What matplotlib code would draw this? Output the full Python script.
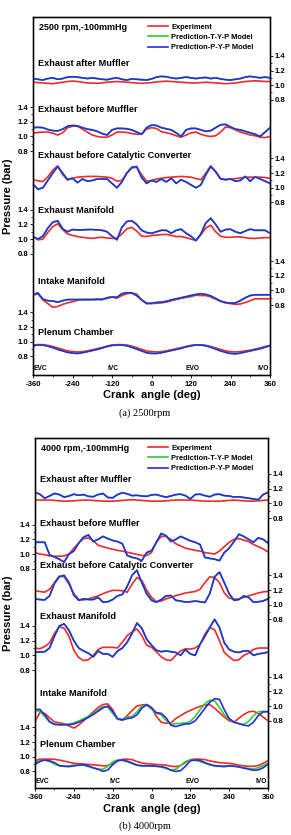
import matplotlib
matplotlib.use('Agg')
import matplotlib.pyplot as plt
from matplotlib.ticker import FixedLocator, MultipleLocator, FormatStrFormatter

plt.rcParams['font.family'] = ['Liberation Sans', 'DejaVu Sans']
plt.rcParams['font.weight'] = 'bold'
plt.rcParams['axes.unicode_minus'] = False

# crank angle samples (deg)
angle = list(range(-360, 361, 15))

channels = ['Exhaust after Muffler', 'Exhaust before Muffler',
            'Exhaust before Catalytic Converter', 'Exhaust Manifold',
            'Intake Manifold', 'Plenum Chamber']
model_labels = ['Experiment', 'Prediction-T-Y-P Model', 'Prediction-P-Y-P Model']
events = ['EVC', 'IVC', 'EVO', 'IVO']
xticks = [-360, -240, -120, 0, 120, 240, 360]
yticks = [0.8, 1.0, 1.2, 1.4]

# ---------------- (a) 2500 rpm ----------------
a_exp_am = [1.04, 1.035, 1.03, 1.025, 1.02, 1.03, 1.04, 1.05, 1.055, 1.05,
            1.04, 1.03, 1.03, 1.025, 1.03, 1.04, 1.045, 1.05, 1.045, 1.04,
            1.035, 1.03, 1.025, 1.03, 1.035, 1.045, 1.05, 1.055, 1.05, 1.045,
            1.04, 1.035, 1.03, 1.03, 1.035, 1.04, 1.035, 1.03, 1.025, 1.02,
            1.025, 1.03, 1.04, 1.05, 1.055, 1.06, 1.055, 1.05, 1.05]
a_pyp_am = [1.09, 1.08, 1.07, 1.09, 1.10, 1.08, 1.09, 1.11, 1.115, 1.11,
            1.10, 1.09, 1.10, 1.09, 1.08, 1.075, 1.09, 1.10, 1.08, 1.07,
            1.085, 1.08, 1.075, 1.07, 1.085, 1.11, 1.12, 1.115, 1.10, 1.09,
            1.10, 1.11, 1.10, 1.09, 1.10, 1.105, 1.09, 1.10, 1.085, 1.075,
            1.07, 1.08, 1.09, 1.11, 1.12, 1.11, 1.10, 1.11, 1.10]
a_exp_bm = [1.045, 1.055, 1.06, 1.06, 1.045, 1.02, 1.05, 1.12, 1.14, 1.14,
            1.10, 1.06, 1.02, 1.0, 0.99, 0.99, 1.02, 1.06, 1.06, 1.055,
            1.04, 1.03, 1.03, 1.10, 1.12, 1.11, 1.065, 1.05, 1.035, 1.01,
            0.99, 1.02, 1.05, 1.06, 1.03, 1.01, 1.0, 1.01, 1.06, 1.13,
            1.12, 1.09, 1.06, 1.04, 1.02, 1.01, 0.99, 0.985, 1.0]
a_pyp_bm = [1.12, 1.125, 1.12, 1.095, 1.08, 1.075, 1.10, 1.14, 1.15, 1.145,
            1.12, 1.10, 1.09, 1.07, 1.04, 1.02, 1.09, 1.11, 1.11, 1.105,
            1.09, 1.06, 1.03, 1.12, 1.155, 1.15, 1.12, 1.105, 1.09, 1.05,
            1.0, 1.09, 1.11, 1.11, 1.09, 1.07, 1.08, 1.12, 1.16, 1.165,
            1.13, 1.10, 1.09, 1.07, 1.05, 1.03, 1.0, 1.06, 1.12]
a_exp_bc = [1.11, 1.095, 1.085, 1.15, 1.24, 1.30, 1.18, 1.11, 1.13, 1.145,
            1.15, 1.155, 1.155, 1.155, 1.15, 1.145, 1.13, 1.09, 1.10, 1.20,
            1.27, 1.28, 1.18, 1.09, 1.10, 1.12, 1.13, 1.14, 1.145, 1.15,
            1.155, 1.15, 1.145, 1.125, 1.11, 1.20, 1.30, 1.22, 1.12, 1.115,
            1.12, 1.125, 1.135, 1.145, 1.145, 1.145, 1.145, 1.14, 1.13]
a_pyp_bc = [1.05, 0.98, 1.0, 1.10, 1.20, 1.29, 1.20, 1.11, 1.13, 1.07,
            1.12, 1.09, 1.10, 1.12, 1.12, 1.12, 1.06, 1.0, 1.08, 1.20,
            1.28, 1.29, 1.14, 1.06, 1.10, 1.08, 1.12, 1.08, 1.13, 1.06,
            1.11, 1.08, 1.04, 1.0, 1.04, 1.18, 1.29, 1.22, 1.12, 1.11,
            1.12, 1.09, 1.10, 1.155, 1.09, 1.15, 1.12, 1.09, 1.06]
a_exp_em = [1.035, 0.99, 1.0, 1.09, 1.17, 1.21, 1.13, 1.07, 1.05, 1.035,
            1.025, 1.015, 1.01, 1.02, 1.025, 1.015, 1.01, 1.01, 1.07, 1.14,
            1.16, 1.11, 1.04, 1.035, 1.05, 1.055, 1.06, 1.065, 1.05, 1.035,
            1.035, 1.02, 1.0, 0.98, 1.06, 1.15, 1.19, 1.10, 1.04, 1.025,
            1.025, 1.03, 1.03, 1.02, 1.01, 1.01, 1.015, 1.02, 1.02]
a_pyp_em = [1.035, 1.0, 1.04, 1.15, 1.23, 1.25, 1.14, 1.10, 1.13, 1.125,
            1.125, 1.13, 1.13, 1.125, 1.12, 1.10, 1.04, 0.99, 1.16, 1.24,
            1.25, 1.20, 1.12, 1.09, 1.08, 1.10, 1.12, 1.12, 1.08, 1.12,
            1.135, 1.08, 1.04, 0.98, 1.07, 1.22, 1.285, 1.20, 1.10, 1.13,
            1.135, 1.10, 1.08, 1.11, 1.135, 1.12, 1.12, 1.12, 1.08]
a_exp_im = [0.93, 0.955, 0.87, 0.82, 0.77, 0.78, 0.81, 0.83, 0.845, 0.865,
            0.875, 0.875, 0.875, 0.875, 0.88, 0.89, 0.91, 0.895, 0.93, 0.955,
            0.965, 0.95, 0.87, 0.83, 0.82, 0.825, 0.83, 0.84, 0.86, 0.875,
            0.89, 0.905, 0.915, 0.935, 0.93, 0.93, 0.91, 0.88, 0.85, 0.83,
            0.82, 0.81, 0.815, 0.835, 0.86, 0.885, 0.885, 0.885, 0.885]
a_pyp_im = [0.945, 0.965, 0.88, 0.86, 0.855, 0.84, 0.86, 0.875, 0.875, 0.875,
            0.875, 0.875, 0.875, 0.88, 0.875, 0.9, 0.91, 0.905, 0.955, 0.968,
            0.965, 0.93, 0.87, 0.82, 0.825, 0.835, 0.84, 0.85, 0.87, 0.885,
            0.9, 0.915, 0.93, 0.945, 0.955, 0.945, 0.925, 0.89, 0.855, 0.835,
            0.825, 0.83, 0.86, 0.9, 0.93, 0.94, 0.94, 0.94, 0.94]
a_exp_pc = [0.955, 0.96, 0.96, 0.95, 0.935, 0.915, 0.895, 0.875, 0.865, 0.86,
            0.865, 0.875, 0.89, 0.905, 0.92, 0.94, 0.955, 0.96, 0.96, 0.955,
            0.94, 0.92, 0.895, 0.875, 0.865, 0.86, 0.865, 0.875, 0.89, 0.905,
            0.92, 0.935, 0.95, 0.955, 0.955, 0.95, 0.935, 0.915, 0.895, 0.875,
            0.865, 0.86, 0.865, 0.875, 0.885, 0.9, 0.915, 0.935, 0.95]
a_pyp_pc = [0.945, 0.955, 0.955, 0.94, 0.92, 0.895, 0.875, 0.855, 0.845, 0.84,
            0.85, 0.865, 0.88, 0.895, 0.915, 0.935, 0.95, 0.955, 0.955, 0.945,
            0.925, 0.9, 0.875, 0.85, 0.84, 0.84, 0.85, 0.865, 0.88, 0.895,
            0.91, 0.93, 0.945, 0.955, 0.955, 0.945, 0.925, 0.9, 0.875, 0.855,
            0.84, 0.835, 0.845, 0.86, 0.875, 0.89, 0.905, 0.925, 0.945]
# at 2500 rpm the T-Y-P curve lies under the P-Y-P curve everywhere
a_typ_am, a_typ_bm, a_typ_bc = a_pyp_am, a_pyp_bm, a_pyp_bc
a_typ_em, a_typ_im, a_typ_pc = a_pyp_em, a_pyp_im, a_pyp_pc

# ---------------- (b) 4000 rpm ----------------
b_exp_am = [1.045, 1.045, 1.045, 1.045, 1.04, 1.035, 1.03, 1.03, 1.035, 1.04,
            1.045, 1.045, 1.04, 1.035, 1.03, 1.03, 1.03, 1.035, 1.04, 1.045,
            1.05, 1.045, 1.04, 1.035, 1.03, 1.03, 1.03, 1.035, 1.04, 1.045,
            1.045, 1.045, 1.045, 1.04, 1.035, 1.03, 1.03, 1.03, 1.03, 1.035,
            1.04, 1.045, 1.04, 1.035, 1.03, 1.03, 1.035, 1.04, 1.045]
b_pyp_am = [1.15, 1.125, 1.07, 1.10, 1.135, 1.12, 1.085, 1.10, 1.125, 1.11,
            1.12, 1.095, 1.09, 1.12, 1.135, 1.08, 1.075, 1.12, 1.145, 1.13,
            1.105, 1.11, 1.10, 1.095, 1.115, 1.12, 1.10, 1.085, 1.10, 1.12,
            1.125, 1.105, 1.06, 1.12, 1.125, 1.105, 1.09, 1.12, 1.125, 1.105,
            1.10, 1.085, 1.09, 1.08, 1.07, 1.06, 1.05, 1.12, 1.15]
b_exp_bm = [1.02, 1.0, 0.99, 0.975, 0.97, 0.97, 0.975, 1.0, 1.08, 1.15,
            1.21, 1.22, 1.18, 1.12, 1.10, 1.08, 1.065, 1.05, 1.04, 1.025,
            1.01, 0.995, 0.98, 0.98, 1.02, 1.16, 1.24, 1.24, 1.2, 1.14,
            1.11, 1.08, 1.065, 1.05, 1.04, 1.02, 1.01, 1.0, 1.04, 1.1,
            1.16, 1.2, 1.21, 1.19, 1.17, 1.13, 1.1, 1.07, 1.03]
b_pyp_bm = [1.16, 1.16, 1.16, 0.99, 0.96, 0.93, 0.89, 1.0, 1.04, 1.15,
            1.23, 1.26, 1.17, 1.2, 1.24, 1.21, 1.185, 1.17, 1.14, 0.98,
            0.955, 0.94, 0.91, 1.02, 1.045, 1.16, 1.28, 1.25, 1.17, 1.2,
            1.24, 1.21, 1.18, 1.16, 1.13, 0.955, 0.94, 0.93, 0.91, 1.02,
            1.08, 1.17, 1.27, 1.24, 1.2, 1.16, 1.22, 1.2, 1.15]
b_exp_bc = [1.19, 1.18, 1.17, 1.21, 1.30, 1.39, 1.38, 1.28, 1.15, 1.07,
            1.065, 1.08, 1.10, 1.12, 1.15, 1.175, 1.195, 1.195, 1.19, 1.17,
            1.28, 1.37, 1.33, 1.20, 1.10, 1.04, 1.05, 1.08, 1.10, 1.125,
            1.14, 1.16, 1.17, 1.18, 1.21, 1.30, 1.38, 1.37, 1.30, 1.16,
            1.09, 1.075, 1.08, 1.10, 1.12, 1.14, 1.16, 1.175, 1.18]
b_pyp_bc = [1.08, 1.07, 1.065, 1.12, 1.29, 1.38, 1.40, 1.30, 1.13, 1.06,
            1.08, 1.07, 1.07, 1.10, 1.035, 1.04, 1.07, 1.12, 1.14, 1.25,
            1.40, 1.47, 1.30, 1.15, 1.06, 1.035, 1.07, 1.12, 1.125, 1.06,
            1.05, 1.035, 1.04, 1.05, 1.04, 1.03, 1.15, 1.38, 1.445, 1.30,
            1.15, 1.06, 1.07, 1.12, 1.10, 1.035, 1.04, 1.05, 1.08]
b_exp_em = [1.10, 1.09, 1.12, 1.17, 1.30, 1.39, 1.37, 1.26, 1.07, 0.97,
            0.93, 0.94, 1.0, 1.08, 1.11, 1.11, 1.11, 1.10, 1.18, 1.27,
            1.32, 1.36, 1.27, 1.14, 1.11, 1.05, 0.98, 0.94, 0.93, 1.0,
            1.06, 1.09, 1.085, 1.10, 1.15, 1.29, 1.38, 1.35, 1.20, 1.04,
            0.98, 0.93, 0.94, 1.0, 1.03, 1.08, 1.10, 1.10, 1.10]
b_pyp_em = [1.045, 1.045, 1.05, 1.10, 1.26, 1.40, 1.43, 1.34, 1.20, 1.10,
            1.06, 1.03, 0.98, 1.06, 1.02, 1.02, 0.98, 1.06, 1.10, 1.18,
            1.30, 1.44, 1.37, 1.22, 1.14, 1.07, 1.05, 1.06, 1.05, 1.04,
            1.0, 1.08, 1.02, 1.0, 1.15, 1.26, 1.38, 1.49, 1.38, 1.17,
            1.08, 1.05, 1.04, 1.06, 1.06, 1.0, 1.02, 1.03, 1.045]
b_exp_im = [0.79, 0.91, 0.90, 0.84, 0.785, 0.77, 0.76, 0.73, 0.70, 0.74,
            0.80, 0.86, 0.92, 0.98, 1.02, 1.03, 0.95, 0.82, 0.81, 0.87,
            0.94, 1.0, 1.015, 1.02, 0.98, 0.86, 0.78, 0.765, 0.77, 0.83,
            0.87, 0.91, 0.94, 0.97, 0.995, 1.015, 1.02, 0.97, 0.91, 0.85,
            0.80, 0.78, 0.835, 0.885, 0.92, 0.93, 0.90, 0.85, 0.80]
b_typ_im = [0.94, 0.93, 0.86, 0.78, 0.75, 0.75, 0.75, 0.755, 0.77, 0.795,
            0.83, 0.86, 0.90, 0.945, 0.99, 0.985, 0.90, 0.82, 0.82, 0.85,
            0.86, 0.92, 1.0, 1.01, 0.96, 0.905, 0.88, 0.80, 0.75, 0.76,
            0.765, 0.77, 0.79, 0.86, 0.95, 1.03, 1.08, 1.07, 0.98, 0.88,
            0.82, 0.78, 0.76, 0.75, 0.79, 0.87, 0.92, 0.93, 0.92]
b_pyp_im = [0.95, 0.955, 0.88, 0.79, 0.75, 0.745, 0.745, 0.745, 0.755, 0.78,
            0.81, 0.845, 0.885, 0.93, 0.975, 1.0, 0.93, 0.83, 0.81, 0.83,
            0.84, 0.88, 0.97, 1.02, 0.975, 0.91, 0.90, 0.84, 0.74, 0.72,
            0.74, 0.755, 0.76, 0.80, 0.88, 0.97, 1.05, 1.10, 1.09, 0.95,
            0.83, 0.78, 0.76, 0.74, 0.73, 0.78, 0.87, 0.92, 0.925]
b_exp_pc = [0.945, 0.965, 0.967, 0.967, 0.965, 0.955, 0.94, 0.925, 0.91, 0.905,
            0.9, 0.895, 0.89, 0.885, 0.875, 0.88, 0.905, 0.945, 0.965, 0.967,
            0.96, 0.935, 0.915, 0.905, 0.9, 0.895, 0.89, 0.885, 0.87, 0.865,
            0.88, 0.92, 0.96, 0.967, 0.967, 0.96, 0.945, 0.93, 0.92, 0.915,
            0.91, 0.9, 0.885, 0.875, 0.87, 0.87, 0.88, 0.91, 0.945]
b_typ_pc = [0.91, 0.945, 0.955, 0.935, 0.90, 0.875, 0.87, 0.875, 0.885, 0.89,
            0.885, 0.865, 0.845, 0.83, 0.83, 0.87, 0.93, 0.955, 0.95, 0.93,
            0.905, 0.885, 0.88, 0.88, 0.875, 0.87, 0.86, 0.84, 0.82, 0.83,
            0.88, 0.935, 0.955, 0.95, 0.935, 0.91, 0.89, 0.88, 0.875, 0.875,
            0.88, 0.875, 0.865, 0.85, 0.84, 0.835, 0.85, 0.88, 0.91]
b_pyp_pc = [0.895, 0.935, 0.955, 0.945, 0.92, 0.88, 0.87, 0.865, 0.875, 0.885,
            0.89, 0.875, 0.85, 0.83, 0.80, 0.82, 0.89, 0.945, 0.955, 0.94,
            0.915, 0.885, 0.875, 0.875, 0.875, 0.87, 0.865, 0.85, 0.815, 0.80,
            0.81, 0.87, 0.945, 0.955, 0.95, 0.92, 0.895, 0.875, 0.87, 0.865,
            0.875, 0.87, 0.86, 0.845, 0.83, 0.815, 0.82, 0.85, 0.895]
# exhaust channels: T-Y-P hidden under P-Y-P
b_typ_am, b_typ_bm, b_typ_bc, b_typ_em = b_pyp_am, b_pyp_bm, b_pyp_bc, b_pyp_em

RED, GREEN, BLUE = '#ee2a2a', '#2ed02e', '#2a2ae0'
tick_side = ['right', 'left', 'right', 'left', 'right', 'left']

fig = plt.figure(figsize=(2.91, 8.35), dpi=100)


def draw_panel(rect, ylim, step, series, label_y, title, event_x, event_ha):
    base = fig.add_axes(rect)
    base.set_xlim(-360, 360)
    base.xaxis.set_major_locator(FixedLocator(xticks))
    base.xaxis.set_minor_locator(MultipleLocator(60))
    base.tick_params(axis='x', which='major', direction='out', length=2.5,
                     width=0.6, labelsize=5.6, pad=1.5)
    base.tick_params(axis='x', which='minor', direction='out', length=1.5, width=0.5)
    n = len(channels)
    handles = []
    for i, name in enumerate(channels):
        ax = base if i == n - 1 else base.twinx()
        off = (n - 1 - i) * step
        ax.set_ylim(ylim[0] - off, ylim[1] - off)
        if tick_side[i] == 'left':
            ax.yaxis.tick_left()
        else:
            ax.yaxis.tick_right()
        ax.yaxis.set_major_locator(FixedLocator(yticks))
        ax.yaxis.set_minor_locator(FixedLocator([0.9, 1.1, 1.3]))
        ax.yaxis.set_major_formatter(FormatStrFormatter('%.1f'))
        ax.tick_params(axis='y', which='major', direction='out', length=2.5,
                       width=0.6, labelsize=5.6, pad=1)
        ax.tick_params(axis='y', which='minor', direction='out', length=1.5, width=0.5)
        for sp in ax.spines.values():
            sp.set_linewidth(0.8)
        exp, typ, pyp = series[i]
        h1, = ax.plot(angle, exp, color=RED, lw=1.2)
        h2, = ax.plot(angle, typ, color=GREEN, lw=1.2)
        h3, = ax.plot(angle, pyp, color=BLUE, lw=1.2)
        handles = [h1, h2, h3]
        ax.text(-346, label_y[i], name, fontsize=6.6, fontweight='bold', va='center')
    base.text(0.025, 0.97, title, transform=base.transAxes, fontsize=6.5,
              fontweight='bold', va='center')
    base.legend(handles, model_labels, loc='upper left', bbox_to_anchor=(0.485, 0.982),
                frameon=False, prop={'size': 5.4, 'weight': 'bold'}, handlelength=2.7,
                handletextpad=0.4, labelspacing=0.42, borderpad=0, borderaxespad=0)
    for name, x, ha in zip(events, event_x, event_ha):
        base.text(x, 0.008, name, transform=base.get_xaxis_transform(), fontsize=4.8,
                  ha=ha, va='bottom')
    return base


series_a = [(a_exp_am, a_typ_am, a_pyp_am), (a_exp_bm, a_typ_bm, a_pyp_bm),
            (a_exp_bc, a_typ_bc, a_pyp_bc), (a_exp_em, a_typ_em, a_pyp_em),
            (a_exp_im, a_typ_im, a_pyp_im), (a_exp_pc, a_typ_pc, a_pyp_pc)]
series_b = [(b_exp_am, b_typ_am, b_pyp_am), (b_exp_bm, b_typ_bm, b_pyp_bm),
            (b_exp_bc, b_typ_bc, b_pyp_bc), (b_exp_em, b_typ_em, b_pyp_em),
            (b_exp_im, b_typ_im, b_pyp_im), (b_exp_pc, b_typ_pc, b_pyp_pc)]

draw_panel([33 / 291, 1 - 375 / 835, 237 / 291, 358 / 835], (0.546, 5.43), 0.70,
           series_a, [1.29, 1.37, 1.44, 1.385, 1.12, 1.12], '2500 rpm,-100mmHg',
           [-357, -118, 125, 357], ['left', 'center', 'center', 'right'])
draw_panel([35 / 291, 1 - 788 / 835, 233 / 291, 350 / 835], (0.574, 5.34), 0.69,
           series_b, [1.33, 1.41, 1.53, 1.53, 1.17, 1.16], '4000 rpm,-100mmHg',
           [-357, -114, 128, 357], ['left', 'center', 'center', 'right'])

# axis titles and captions
for yc, xl, cap, ycap in [(196, 395, '(a) 2500rpm', 413), (613, 809, '(b) 4000rpm', 826)]:
    fig.text(0.027, 1 - yc / 835, 'Pressure (bar)', rotation=90, fontsize=8,
             fontweight='bold', ha='center', va='center')
    fig.text(0.523, 1 - xl / 835, 'Crank  angle (deg)', fontsize=8,
             fontweight='bold', ha='center', va='center')
    fig.text(0.497, 1 - ycap / 835, cap, fontsize=7.5, fontweight='normal',
             family='Liberation Serif', ha='center', va='center')

fig.savefig('out.png', dpi=100)
